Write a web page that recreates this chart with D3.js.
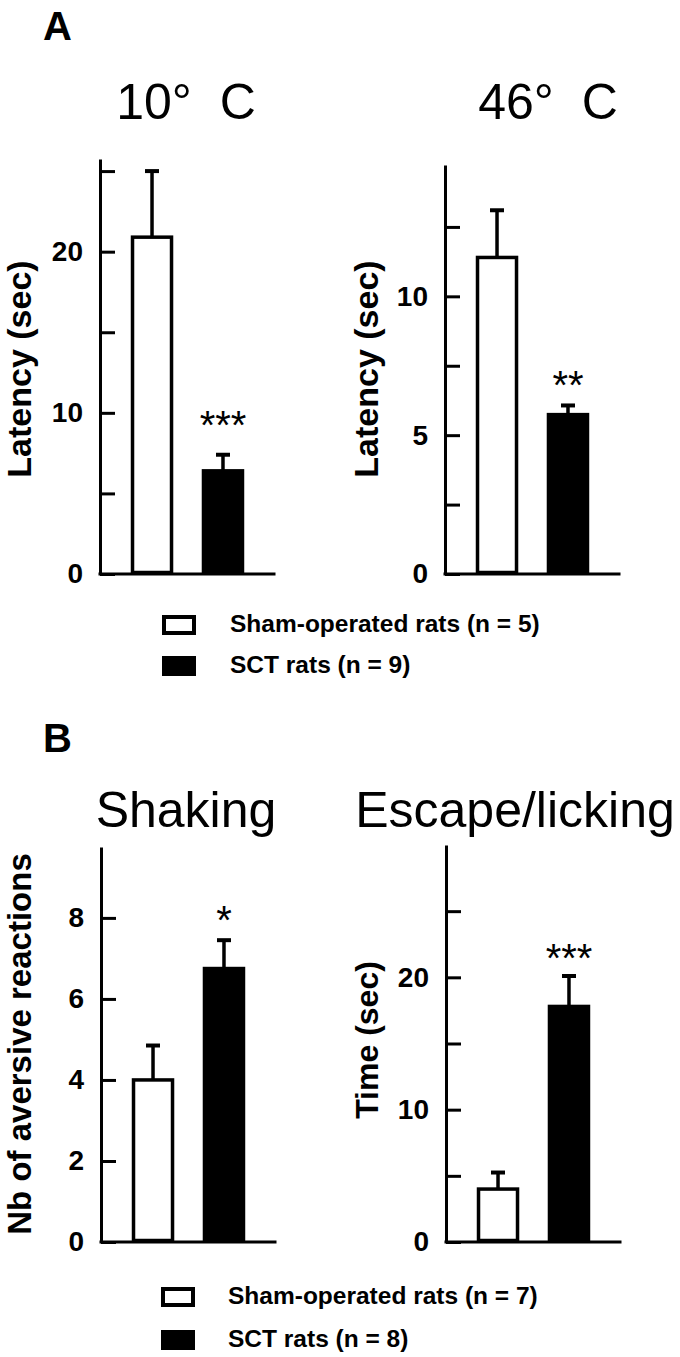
<!DOCTYPE html>
<html lang="en">
<head>
  <meta charset="UTF-8">
  <script src="https://d3js.org/d3.v7.min.js"></script>
  <title>Latency and aversive reactions</title>
  <style>
    body { margin: 0; background: #fff; }
    text { font-family: "Liberation Sans", Arial, sans-serif; fill: #000; }
  </style>
</head>
<body>
  <svg id="chart" width="680" height="1357"></svg>
  <script>
    // data
    const groups = ['Sham-operated rats', 'SCT rats'];
    const panelTitles = ['10°\u00a0\u00a0C', '46°\u00a0\u00a0C', 'Shaking', 'Escape/licking'];
    const yLabels = ['Latency (sec)', 'Latency (sec)', 'Nb of aversive reactions', 'Time (sec)'];
    const means = [[20.9, 6.4], [11.4, 5.74], [4.0, 6.75], [4.0, 17.8]];
    const errors = [[4.1, 1.0], [1.7, 0.33], [0.85, 0.7], [1.25, 2.3]];
    const yMax = [25.75, 14.73, 9.75, 30];
    const tickValues = [[0, 5, 10, 15, 20, 25], [0, 2.5, 5, 7.5, 10, 12.5], [0, 2, 4, 6, 8], [0, 5, 10, 15, 20, 25]];
    const tickLabels = [[0, 10, 20], [0, 5, 10], [0, 2, 4, 6, 8], [0, 10, 20]];
    const stars = ['***', '**', '*', '***'];
    const legendA = ['Sham-operated rats (n = 5)', 'SCT rats (n = 9)'];
    const legendB = ['Sham-operated rats (n = 7)', 'SCT rats (n = 8)'];
    const sections = ['A', 'B'];

    // layout (pixels)
    const panels = [
      { x: 100, top: 159, bottom: 574, titleX: 186, titleY: 119, labelX: 31, labelY: 369, labelSize: 34, starGap: 16 },
      { x: 445, top: 165, bottom: 574, titleX: 548, titleY: 119, labelX: 378, labelY: 369, labelSize: 34, starGap: 6 },
      { x: 101, top: 847, bottom: 1242, titleX: 186, titleY: 827, labelX: 31, labelY: 1044, labelSize: 33, starGap: 6 },
      { x: 446, top: 845, bottom: 1242, titleX: 515, titleY: 827, labelX: 378, labelY: 1040, labelSize: 32, starGap: 4 }
    ];
    const legends = [
      { labels: legendA, boxX: 162, rows: [615, 656], textX: 230 },
      { labels: legendB, boxX: 161, rows: [1287, 1330], textX: 228 }
    ];
    const sectionPos = [{ x: 43, y: 40 }, { x: 43, y: 752 }];
    const fills = ['#fff', '#000'];

    const svg = d3.select('#chart');
    svg.append('rect').attr('width', 680).attr('height', 1357).attr('fill', '#fff');

    svg.selectAll('text.section')
      .data(sections)
      .enter()
      .append('text')
      .attr('class', 'section')
      .attr('x', (d, i) => sectionPos[i].x)
      .attr('y', (d, i) => sectionPos[i].y)
      .attr('font-size', 40)
      .attr('font-weight', 'bold')
      .text(d => d);

    panels.forEach((p, i) => {
      const g = svg.append('g').attr('transform', `translate(${p.x},0)`);

      const x = d3.scaleBand()
        .domain(groups)
        .range([0, 175])
        .paddingInner(0.408)
        .paddingOuter(0.437);
      const y = d3.scaleLinear()
        .domain([0, yMax[i]])
        .range([p.bottom, p.top]);

      const rows = groups.map((name, j) => ({ name, mean: means[i][j], err: errors[i][j], fill: fills[j] }));

      // error bars (upper half only)
      const eb = g.selectAll('g.err')
        .data(rows)
        .enter()
        .append('g')
        .attr('class', 'err');
      eb.append('line')
        .attr('x1', d => x(d.name) + x.bandwidth() / 2)
        .attr('x2', d => x(d.name) + x.bandwidth() / 2)
        .attr('y1', d => y(d.mean))
        .attr('y2', d => y(d.mean + d.err))
        .attr('stroke', '#000')
        .attr('stroke-width', 3.5);
      eb.append('line')
        .attr('x1', d => x(d.name) + x.bandwidth() / 2 - 7)
        .attr('x2', d => x(d.name) + x.bandwidth() / 2 + 7)
        .attr('y1', d => y(d.mean + d.err))
        .attr('y2', d => y(d.mean + d.err))
        .attr('stroke', '#000')
        .attr('stroke-width', 4);

      g.selectAll('rect.bar')
        .data(rows)
        .enter()
        .append('rect')
        .attr('class', 'bar')
        .attr('x', d => x(d.name) + 1.5)
        .attr('width', x.bandwidth() - 3)
        .attr('y', d => y(d.mean))
        .attr('height', d => y(0) - y(d.mean) - 1.5)
        .attr('fill', d => d.fill)
        .attr('stroke', '#000')
        .attr('stroke-width', 3.5);

      // y axis: ticks point inward, labels on the left
      const axis = g.append('g')
        .call(d3.axisLeft(y)
          .tickValues(tickValues[i])
          .tickSizeInner(-15)
          .tickSizeOuter(0)
          .tickPadding(17)
          .tickFormat(d => tickLabels[i].includes(d) ? d : ''));
      axis.select('.domain').attr('stroke-width', 3);
      axis.selectAll('.tick line').attr('stroke-width', 3);
      axis.selectAll('.tick text')
        .attr('font-size', 28)
        .attr('font-weight', 'bold')
        .attr('font-family', '"Liberation Sans", Arial, sans-serif');

      // x axis baseline
      g.append('line')
        .attr('x1', 0)
        .attr('x2', x.range()[1] - 1)
        .attr('y1', y(0))
        .attr('y2', y(0))
        .attr('stroke', '#000')
        .attr('stroke-width', 3)
        .attr('stroke-linecap', 'square');

      // significance stars over the SCT bar
      const sct = rows[1];
      g.append('text')
        .attr('x', x(sct.name) + x.bandwidth() / 2)
        .attr('y', y(sct.mean + sct.err) - p.starGap)
        .attr('text-anchor', 'middle')
        .attr('font-size', 40)
        .text(stars[i]);

      svg.append('text')
        .attr('x', p.titleX)
        .attr('y', p.titleY)
        .attr('text-anchor', 'middle')
        .attr('font-size', 50)
        .text(panelTitles[i]);

      svg.append('text')
        .attr('transform', `translate(${p.labelX},${p.labelY}) rotate(-90)`)
        .attr('text-anchor', 'middle')
        .attr('font-size', p.labelSize)
        .attr('font-weight', 'bold')
        .text(yLabels[i]);
    });

    legends.forEach(L => {
      const lg = svg.append('g');
      L.labels.forEach((label, j) => {
        const top = L.rows[j];
        if (j === 0) {
          lg.append('rect')
            .attr('x', L.boxX + 2).attr('y', top + 2)
            .attr('width', 30).attr('height', 16)
            .attr('fill', '#fff').attr('stroke', '#000').attr('stroke-width', 4);
        } else {
          lg.append('rect')
            .attr('x', L.boxX).attr('y', top)
            .attr('width', 34).attr('height', 20)
            .attr('fill', '#000');
        }
        lg.append('text')
          .attr('x', L.textX)
          .attr('y', top + 17)
          .attr('font-size', 24.5)
          .attr('font-weight', 'bold')
          .text(label);
      });
    });
  </script>
</body>
</html>
